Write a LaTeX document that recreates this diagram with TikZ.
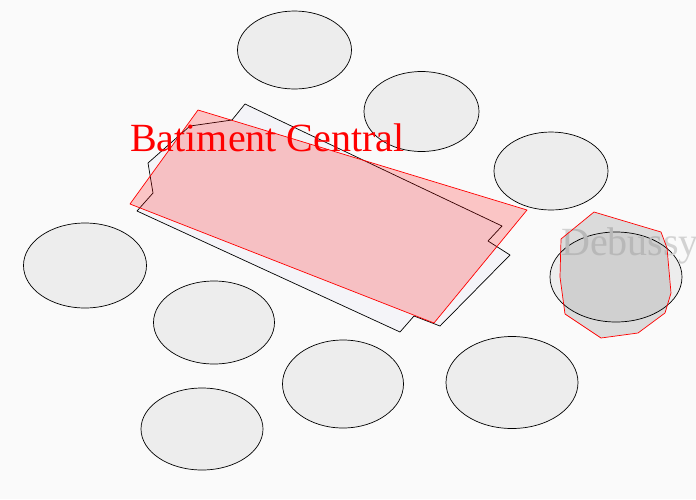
\documentclass[tikz,border=0pt]{standalone}
\usepackage{fontspec}
\setmainfont{Liberation Serif}
\usetikzlibrary{shapes.geometric}
\definecolor{bg}{HTML}{FAFAFA}
\definecolor{ellfill}{HTML}{EDEDED}
\definecolor{bldfill}{HTML}{F4F4F8}
\definecolor{ghost}{HTML}{D2D2D2}
\tikzset{
  place/.style={ellipse, draw=black, line width=0.7pt, fill=ellfill, inner sep=0pt},
  building/.style={draw=black, line width=0.7pt, fill=bldfill, line join=round},
  redzone/.style={draw=red, line width=0.7pt, fill=red, fill opacity=0.21, line join=round},
  greyzone/.style={draw=red, line width=0.7pt, fill=black, fill opacity=0.12, line join=round},
  bigred/.style={text=red, font=\fontsize{40}{40}\selectfont, inner sep=0pt, anchor=base west},
  biggrey/.style={text=ghost, font=\fontsize{40}{40}\selectfont, inner sep=0pt, anchor=base west}
}
\begin{document}
\begin{tikzpicture}[x=1pt,y=-1pt]
\path[fill=bg] (0,0) rectangle (696,499);
\useasboundingbox (0,0) rectangle (696,499);
\begin{scope}
\clip (0,0) rectangle (696,499);
% places
\node[place, minimum width=114pt, minimum height=78pt] (e1) at (294.5,50) {};
\node[place, minimum width=115pt, minimum height=80pt] (e2) at (421.5,111.5) {};
\node[place, minimum width=114pt, minimum height=78pt] (e3) at (551,171) {};
\node[place, minimum width=132pt, minimum height=90pt] (e4) at (616,277) {};
\node[place, minimum width=123pt, minimum height=85pt] (e5) at (85,265.5) {};
\node[place, minimum width=121pt, minimum height=83pt] (e6) at (214,322.5) {};
\node[place, minimum width=121pt, minimum height=88pt] (e7) at (343,384) {};
\node[place, minimum width=132pt, minimum height=92pt] (e8) at (512,382.5) {};
\node[place, minimum width=122pt, minimum height=82pt] (e9) at (202,429) {};
% Debussy label
\node[biggrey] (deb) at (561,255) {Debussy};
% building outline
\path[building] (245,104) -- (502,226) -- (488,241) -- (510,255) -- (440,326)
  -- (414,316) -- (400,332) -- (137,211) -- (153,193) -- (148,163)
  -- (190,126) -- (232,120) -- cycle;
% red zone
\path[redzone] (198,110) -- (527,210) -- (434,323) -- (130,204) -- cycle;
% grey zone
\path[greyzone] (594,212) -- (661,232) -- (667,248) -- (671,293) -- (665,313)
  -- (638,333) -- (601,338) -- (565,314) -- (560,277) -- (561,239) -- cycle;
% label
\node[bigred] (bc) at (130,151) {Batiment Central};
\end{scope}
\end{tikzpicture}
\end{document}
